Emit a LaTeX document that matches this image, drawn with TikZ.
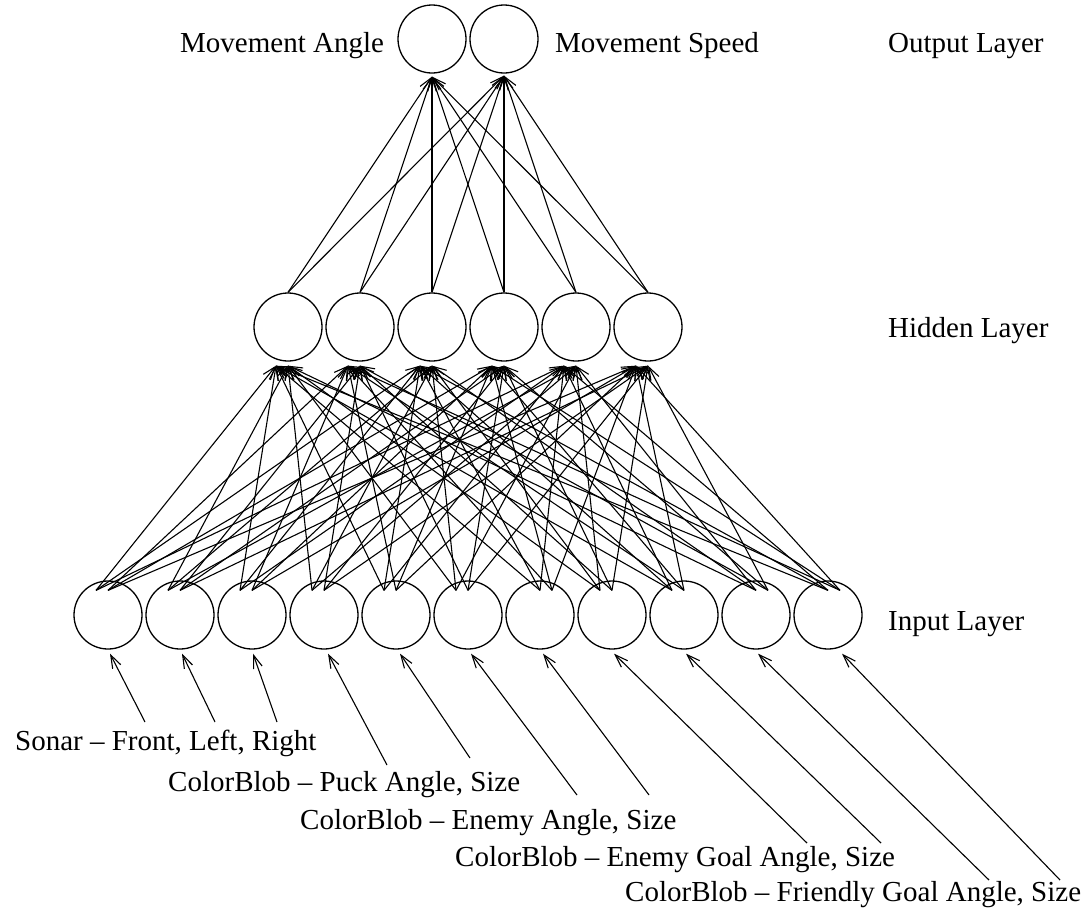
\documentclass[tikz,border=0pt]{standalone}
\usepackage{fontspec}
\setmainfont{Liberation Serif}
\usetikzlibrary{arrows.meta}
\begin{document}
\begin{tikzpicture}[x=1pt,y=-1pt,
  neuron/.style={circle,draw,line width=1.3pt,minimum size=68pt,inner sep=0pt},
  lbl/.style={anchor=base west,inner sep=0pt,font=\fontsize{29}{34}\selectfont},
  conn/.style={line width=1.1pt,-{Straight Barb[length=13pt,width=9pt,line width=1.1pt]}}]
\useasboundingbox (0,0) rectangle (1091,913);
% neurons
\foreach \i in {1,...,11} \node[neuron] (in\i) at ({108+72*(\i-1)},615) {};
\foreach \j in {1,...,6} \node[neuron] (h\j) at ({288+72*(\j-1)},327) {};
\node[neuron] (o1) at (432,39) {};
\node[neuron] (o2) at (504,39) {};
% layer texts
\node[lbl] (ma) at (180,52) {Movement Angle};
\node[lbl] (ms) at (555,52) {Movement Speed};
\node[lbl] (ol) at (888,52) {Output Layer};
\node[lbl] (hl) at (888,337) {Hidden Layer};
\node[lbl] (il) at (888,630) {Input Layer};
% input texts
\node[lbl] (s1) at (15,750) {Sonar -- Front, Left, Right};
\node[lbl] (s2) at (168,791) {ColorBlob -- Puck Angle, Size};
\node[lbl] (s3) at (300,829) {ColorBlob -- Enemy Angle, Size};
\node[lbl] (s4) at (455,866) {ColorBlob -- Enemy Goal Angle, Size};
\node[lbl] (s5) at (625,901) {ColorBlob -- Friendly Goal Angle, Size};
% input -> hidden
\foreach \i/\ta/\tb in {1/-12/0,2/-12/0,3/-12/0,4/-12/0,5/-12/0,6/-12/0,7/0/12,8/-12/0,9/-12/0,10/0/12,11/0/12}{
  \foreach \j in {1,...,6}{
    \pgfmathsetmacro\tx{isodd(\j)?\ta:\tb}
    \pgfmathsetmacro\hx{isodd(\i)?-12:0}
    \draw[conn] ([xshift=\tx pt,yshift=-10pt]in\i.north) -- ([xshift=\hx pt,yshift=-4pt]h\j.south);
  }
}
% hidden -> output
\foreach \j in {1,...,6}{
  \draw[conn] (h\j.north) -- ([yshift=-3pt]o1.south);
  \draw[conn] (h\j.north) -- ([yshift=-2pt]o2.south);
}
% sensor arrows
\foreach \i/\x/\y/\d in {1/145/722/2,2/215/722/2,3/277/722/1,4/387/765/4,5/470/758/4,6/577/795/3,7/649/795/3,8/807/843/2,9/881/843/2,10/989/880/2,11/1060/880/14}{
  \coordinate (t\i) at (\x,\y);
  \draw[conn] (t\i) -- ([xshift=\d pt,yshift=-4pt]in\i.south);
}
\end{tikzpicture}
\end{document}
